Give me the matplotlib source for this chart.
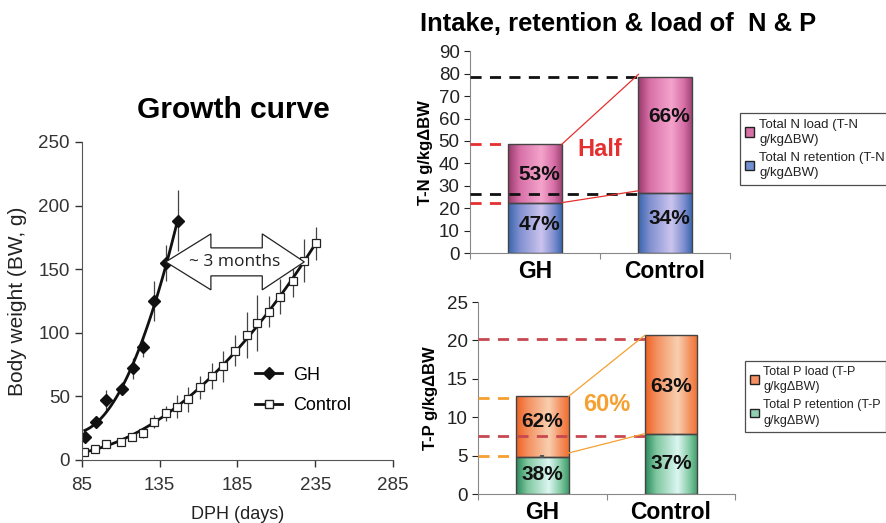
import numpy as np
import matplotlib
matplotlib.use("Agg")
import matplotlib.pyplot as plt
from matplotlib.colors import LinearSegmentedColormap
from matplotlib.patches import Polygon
from matplotlib.lines import Line2D

plt.rcParams['font.family'] = ['Liberation Sans', 'DejaVu Sans']

# ---------------- data ----------------
gh_day = [87, 94, 100.7, 110.8, 117.8, 124.7, 131.6, 139, 146.6]
gh_bw = [18.4, 30, 47, 56, 72, 89, 125, 155, 188]
gh_err = [2, 3, 8, 5, 8, 8, 16, 14, 24]

ctrl_day = [86.7, 93.6, 100.5, 110, 117.6, 124.7, 131.6, 139, 146, 153, 161,
            169, 175.8, 183.3, 191, 197.7, 205.4, 212.7, 220.8, 228, 235.4]
ctrl_bw = [6.6, 9, 12.6, 14.4, 18.4, 21.5, 30, 36.7, 42, 47.7, 57,
           66, 73.5, 86, 98, 107.5, 116.7, 128.5, 141, 156.6, 170.5]
ctrl_err = [1.5, 2, 2.5, 3, 3, 4, 5, 6, 9, 10, 9,
            10, 12, 12, 18, 22, 12, 14, 13, 17, 13]

groups = ["GH", "Control"]
n_retention = [22.5, 26.8]
n_load = [26.0, 51.9]
n_ret_pct = ["47%", "34%"]
n_load_pct = ["53%", "66%"]

p_retention = [4.85, 7.76]
p_retention_err = [0.2, 0.1]
p_load = [7.89, 12.91]
p_ret_pct = ["38%", "37%"]
p_load_pct = ["62%", "63%"]

fig = plt.figure(figsize=(8.87, 5.23), dpi=100)

# ---------------- growth curve ----------------
ax = fig.add_axes([0.0921, 0.1205, 0.351, 0.608])
for s in ['top', 'right']:
    ax.spines[s].set_visible(False)
for s in ['left', 'bottom']:
    ax.spines[s].set_color('#555555')
ax.set_xlim(85, 285)
ax.set_ylim(0, 250)
ax.set_xticks([85, 135, 185, 235, 285])
ax.set_yticks([0, 50, 100, 150, 200, 250])
ax.tick_params(direction='out', length=5, labelsize=13.5, colors='#333333', width=1)
ax.tick_params(axis='x', pad=7)

ax.errorbar(gh_day, gh_bw, yerr=gh_err, fmt='none', ecolor='#444444', elinewidth=0.9, capsize=0)
ax.errorbar(ctrl_day, ctrl_bw, yerr=ctrl_err, fmt='none', ecolor='#444444', elinewidth=0.9, capsize=0)

cg = np.polyfit(gh_day, gh_bw, 2)
xg = np.linspace(gh_day[0], gh_day[-1], 100)
ax.plot(xg, np.polyval(cg, xg), color='#111111', lw=2)
cc = np.polyfit(ctrl_day, ctrl_bw, 2)
xc = np.linspace(ctrl_day[0], ctrl_day[-1], 100)
ax.plot(xc, np.polyval(cc, xc), color='#111111', lw=2)

ax.plot(gh_day, gh_bw, 'D', color='#111111', ms=6, ls='none')
ax.plot(ctrl_day, ctrl_bw, 's', mfc='white', mec='#222222', ms=6, mew=0.9, ls='none')

# block double arrow between GH and Control at the same weight
x0, y0 = gh_day[7], gh_bw[7]
x1 = ctrl_day[19]
y1 = y0 + 1.5
ym = (y0 + y1) / 2
hl = 29
hw = 22
tw = 11
arrow_pts = [(x0, ym), (x0 + hl, ym + hw), (x0 + hl, ym + tw), (x1 - hl + 2, ym + tw),
             (x1 - hl + 2, ym + hw), (x1, ym), (x1 - hl + 2, ym - hw), (x1 - hl + 2, ym - tw),
             (x0 + hl, ym - tw), (x0 + hl, ym - hw)]
ax.add_patch(Polygon(arrow_pts, closed=True, fc='white', ec='#222222', lw=0.9, zorder=5))
ax.text((x0 + x1) / 2, ym, "~ 3 months", ha='center', va='center', fontsize=12.5,
        family=['Open Sans', 'DejaVu Sans'], color='#222222', zorder=6)

ax.set_ylabel("Body weight (BW, g)", fontsize=15, color='#222222', labelpad=8)
ax.set_xlabel("DPH (days)", fontsize=13, color='#222222', labelpad=9)
handles = [Line2D([], [], color='#111111', lw=2, marker='D', ms=6),
           Line2D([], [], color='#111111', lw=2, marker='s', mfc='white', mec='#222222', ms=6)]
ax.legend(handles, ["GH", "Control"], loc='upper left', bbox_to_anchor=(0.505, 0.345),
          frameon=False, fontsize=13, handlelength=1.5, handletextpad=0.6, labelspacing=0.75)
fig.text(0.263, 0.79, "Growth curve", ha='center', va='center', fontsize=21.5, fontweight='bold')

fig.text(0.697, 0.955, "Intake, retention & load of  N & P", ha='center', va='center',
         fontsize=18.4, fontweight='bold')


def make_cmap(dark_l, mid, light, dark_r):
    return LinearSegmentedColormap.from_list(
        'g', [(0, dark_l), (0.22, mid), (0.62, light), (0.85, mid), (1, dark_r)])


def gradient_bars(axx, bottoms, heights, cmap, width):
    bars = axx.bar(range(len(heights)), heights, width=width, bottom=bottoms,
                   color='none', edgecolor='#444444', lw=1, zorder=3)
    grad = np.linspace(0, 1, 256).reshape(1, -1)
    for b in bars:
        x, y = b.get_x(), b.get_y()
        w, h = b.get_width(), b.get_height()
        im = axx.imshow(grad, cmap=cmap, aspect='auto', extent=[x, x + w, y, y + h],
                        zorder=2, interpolation='bicubic')
        im.set_clip_path(b)
    return bars


def style_bar_axes(axx, ymax, ystep):
    for s in ['top', 'right']:
        axx.spines[s].set_visible(False)
    for s in ['left', 'bottom']:
        axx.spines[s].set_color('#888888')
    axx.set_xlim(-0.5, 1.5)
    axx.set_ylim(0, ymax)
    axx.set_yticks(np.arange(0, ymax + 0.1, ystep))
    axx.set_xticks([-0.5, 0.5, 1.5])
    axx.set_xticklabels([])
    axx.tick_params(direction='out', length=4, labelsize=13.5, colors='#222222')
    axx.tick_params(axis='x', color='#888888')
    for i, g in enumerate(groups):
        axx.text(i, -0.035 * ymax, g, transform=axx.transData, ha='center', va='top',
                 fontsize=16.5, fontweight='bold')
    axx.set_aspect('auto')


def side_legend(axx, colors, labels, anchor, fs):
    leg = axx.legend(handles=[plt.Rectangle((0, 0), 1, 1, fc=c, ec='#222222') for c in colors],
                     labels=labels, loc='upper left', bbox_to_anchor=anchor, borderaxespad=0,
                     fontsize=fs, frameon=True, fancybox=False, edgecolor='#222222',
                     handlelength=0.7, handleheight=0.7, handletextpad=0.35,
                     borderpad=0.4, labelspacing=0.5)
    for t in leg.get_texts():
        t.set_linespacing(1.35)
        t.set_color('#222222')
    leg.get_frame().set_linewidth(0.9)
    return leg


W = 0.41
# ---------------- N chart ----------------
axn = fig.add_axes([0.530, 0.516, 0.293, 0.386])
nl_cmap = make_cmap('#98386a', '#d870a8', '#f4a4cc', '#a04474')
nr_cmap = make_cmap('#3864ac', '#8090d0', '#ccc4ee', '#3a68b0')
n_tot = [a + b for a, b in zip(n_retention, n_load)]
gradient_bars(axn, [0, 0], n_retention, nr_cmap, W)
gradient_bars(axn, n_retention, n_load, nl_cmap, W)
style_bar_axes(axn, 90, 10)
axn.set_ylabel("T-N g/kgΔBW", fontsize=12, fontweight='bold', labelpad=4)
xr = -W / 2
axn.plot([-0.5, 1 - W / 2], [n_tot[1], n_tot[1]], ls=(0, (4, 3)), color='#111111', lw=2, zorder=4)
axn.plot([-0.5, 1 - W / 2], [n_retention[1] - 0.3, n_retention[1] - 0.3], ls=(0, (4, 3)), color='#111111', lw=2, zorder=4)
axn.plot([-0.5, xr], [n_tot[0], n_tot[0]], ls=(0, (4, 3)), color='#e53030', lw=2, zorder=4)
axn.plot([-0.5, xr], [n_retention[0], n_retention[0]], ls=(0, (4, 3)), color='#e53030', lw=2, zorder=4)
axn.plot([W / 2, 1 - W / 2], [n_tot[0], n_tot[1] + 1], color='#e53030', lw=0.9, zorder=4)
axn.plot([W / 2, 1 - W / 2], [n_retention[0], n_retention[1] + 1], color='#e53030', lw=0.9, zorder=4)
axn.text(0.5, 46, "Half", color='#e53030', fontsize=17, fontweight='bold', ha='center', va='center')
axn.text(0.03, 35, n_load_pct[0], ha='center', va='center', fontsize=15, fontweight='bold', color='#111111', zorder=5)
axn.text(1.03, 61, n_load_pct[1], ha='center', va='center', fontsize=15, fontweight='bold', color='#111111', zorder=5)
axn.text(0.03, 12.6, n_ret_pct[0], ha='center', va='center', fontsize=15, fontweight='bold', color='#111111', zorder=5)
axn.text(1.03, 15.5, n_ret_pct[1], ha='center', va='center', fontsize=15, fontweight='bold', color='#111111', zorder=5)
side_legend(axn, ['#d870a8', '#7090d0'],
            ["Total N load (T-N\ng/kgΔBW)", "Total N retention (T-N\ng/kgΔBW)"], (1.038, 0.693), 9.5)

# ---------------- P chart ----------------
axp = fig.add_axes([0.539, 0.0554, 0.290, 0.367])
pl_cmap = make_cmap('#ee6020', '#f49060', '#f8d0b0', '#f07030')
pr_cmap = make_cmap('#28885a', '#80c8a0', '#dcf6f2', '#3c9c6a')
p_tot = [a + b for a, b in zip(p_retention, p_load)]
gradient_bars(axp, [0, 0], p_retention, pr_cmap, W)
gradient_bars(axp, p_retention, p_load, pl_cmap, W)
axp.errorbar([0, 1], p_retention, yerr=p_retention_err, fmt='none', ecolor='#555555', elinewidth=3, capsize=0, zorder=4)
style_bar_axes(axp, 25, 5)
axp.set_ylabel("T-P g/kgΔBW", fontsize=12, fontweight='bold', labelpad=6)
axp.plot([-0.5, 1 - W / 2], [20.2, 20.2], ls=(0, (4, 3)), color='#c84850', lw=2, zorder=4)
axp.plot([-0.5, 1 - W / 2], [7.5, 7.5], ls=(0, (4, 3)), color='#c84850', lw=2, zorder=4)
axp.plot([-0.5, -W / 2], [12.5, 12.5], ls=(0, (4, 3)), color='#f5a030', lw=2, zorder=4)
axp.plot([-0.5, -W / 2], [5.0, 5.0], ls=(0, (4, 3)), color='#f5a030', lw=2, zorder=4)
axp.plot([W / 2, 1 - W / 2], [p_tot[0], p_tot[1]], color='#f5a030', lw=0.9, zorder=4)
axp.plot([W / 2, 1 - W / 2], [p_retention[0] + 0.5, p_retention[1] + 0.1], color='#f5a030', lw=0.9, zorder=4)
axp.text(0.5, 11.6, "60%", color='#f5a030', fontsize=17, fontweight='bold', ha='center', va='center')
axp.text(0.0, 9.4, p_load_pct[0], ha='center', va='center', fontsize=15, fontweight='bold', color='#111111', zorder=5)
axp.text(0.0, 2.6, p_ret_pct[0], ha='center', va='center', fontsize=15, fontweight='bold', color='#111111', zorder=5)
axp.text(1.0, 14.0, p_load_pct[1], ha='center', va='center', fontsize=15, fontweight='bold', color='#111111', zorder=5)
axp.text(1.0, 4.0, p_ret_pct[1], ha='center', va='center', fontsize=15, fontweight='bold', color='#111111', zorder=5)
side_legend(axp, ['#f49060', '#90d0b0'],
            ["Total P load (T-P\ng/kgΔBW)", "Total P retention (T-P\ng/kgΔBW)"], (1.039, 0.693), 9.0)

fig.savefig("out.png", dpi=100)
